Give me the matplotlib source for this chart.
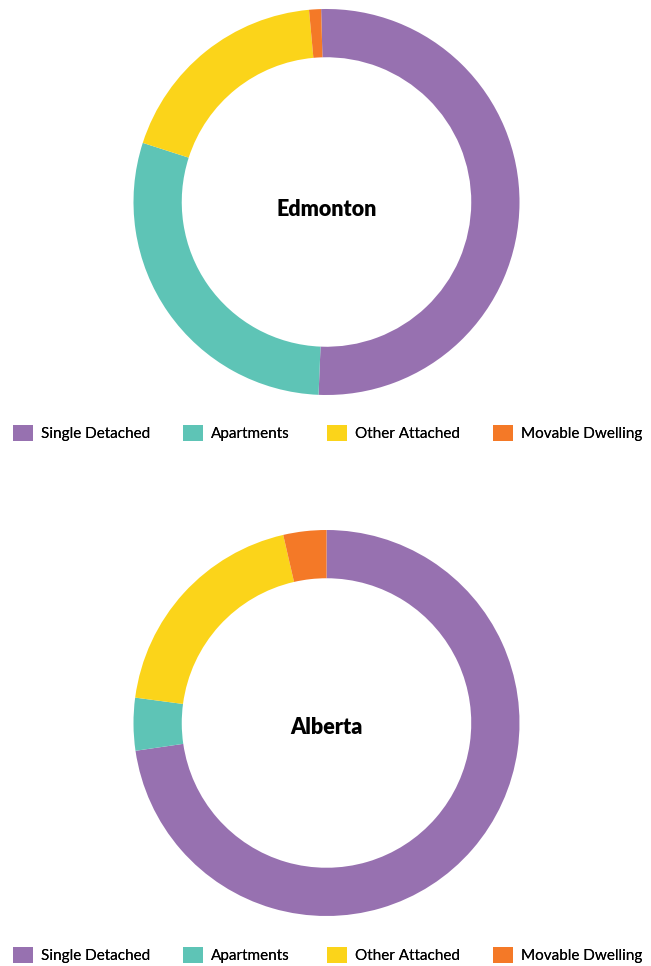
import matplotlib
matplotlib.use("Agg")
from matplotlib import pyplot as plt
from matplotlib.patches import Patch

plt.rcParams["font.family"] = ["Lato", "DejaVu Sans"]

# ------------------------------------------------------------------------ DATA
categories = ["Single Detached", "Apartments", "Other Attached", "Movable Dwelling"]
colors = ["#9771B0", "#5EC4B6", "#FBD41A", "#F47927"]

edmonton = [51.1, 29.3, 18.6, 1.0]
alberta = [72.7, 4.4, 19.3, 3.6]

W, H = 651, 966
R = 193
legend_x = [13, 183, 327, 493]


def donut(values, title, cx, cy, start, title_dy, legend_y):
    ax = fig.add_axes([(cx - R) / W, 1 - (cy + R) / H, 2 * R / W, 2 * R / H])
    ax.pie(values, colors=colors, startangle=start, counterclock=False,
           radius=1, wedgeprops=dict(width=0.25, linewidth=0))
    ax.set_xlim(-1, 1)
    ax.set_ylim(-1, 1)
    ax.set_aspect("equal")
    ax.axis("off")
    ax.text(0, -title_dy / R, title, ha="center", va="center",
            fontsize=15.5, fontweight="heavy")

    # one small legend per entry so each square sits where the reference has it
    for x, lab, c in zip(legend_x, categories, colors):
        leg = fig.legend([Patch(facecolor=c, edgecolor="none")], [lab],
                         loc="center left", frameon=False,
                         bbox_to_anchor=(x / W, 1 - legend_y / H),
                         borderaxespad=0, borderpad=0, fontsize=11,
                         handlelength=1.3, handleheight=1.3, handletextpad=0.55)
        fig.add_artist(leg)


fig = plt.figure(figsize=(W / 100, H / 100), dpi=100)

donut(edmonton, "Edmonton", 326.5, 202, 90 + 1.6, 7, 433)
donut(alberta, "Alberta", 326.5, 723, 90, 4, 955)

fig.savefig("out.png", dpi=100)
